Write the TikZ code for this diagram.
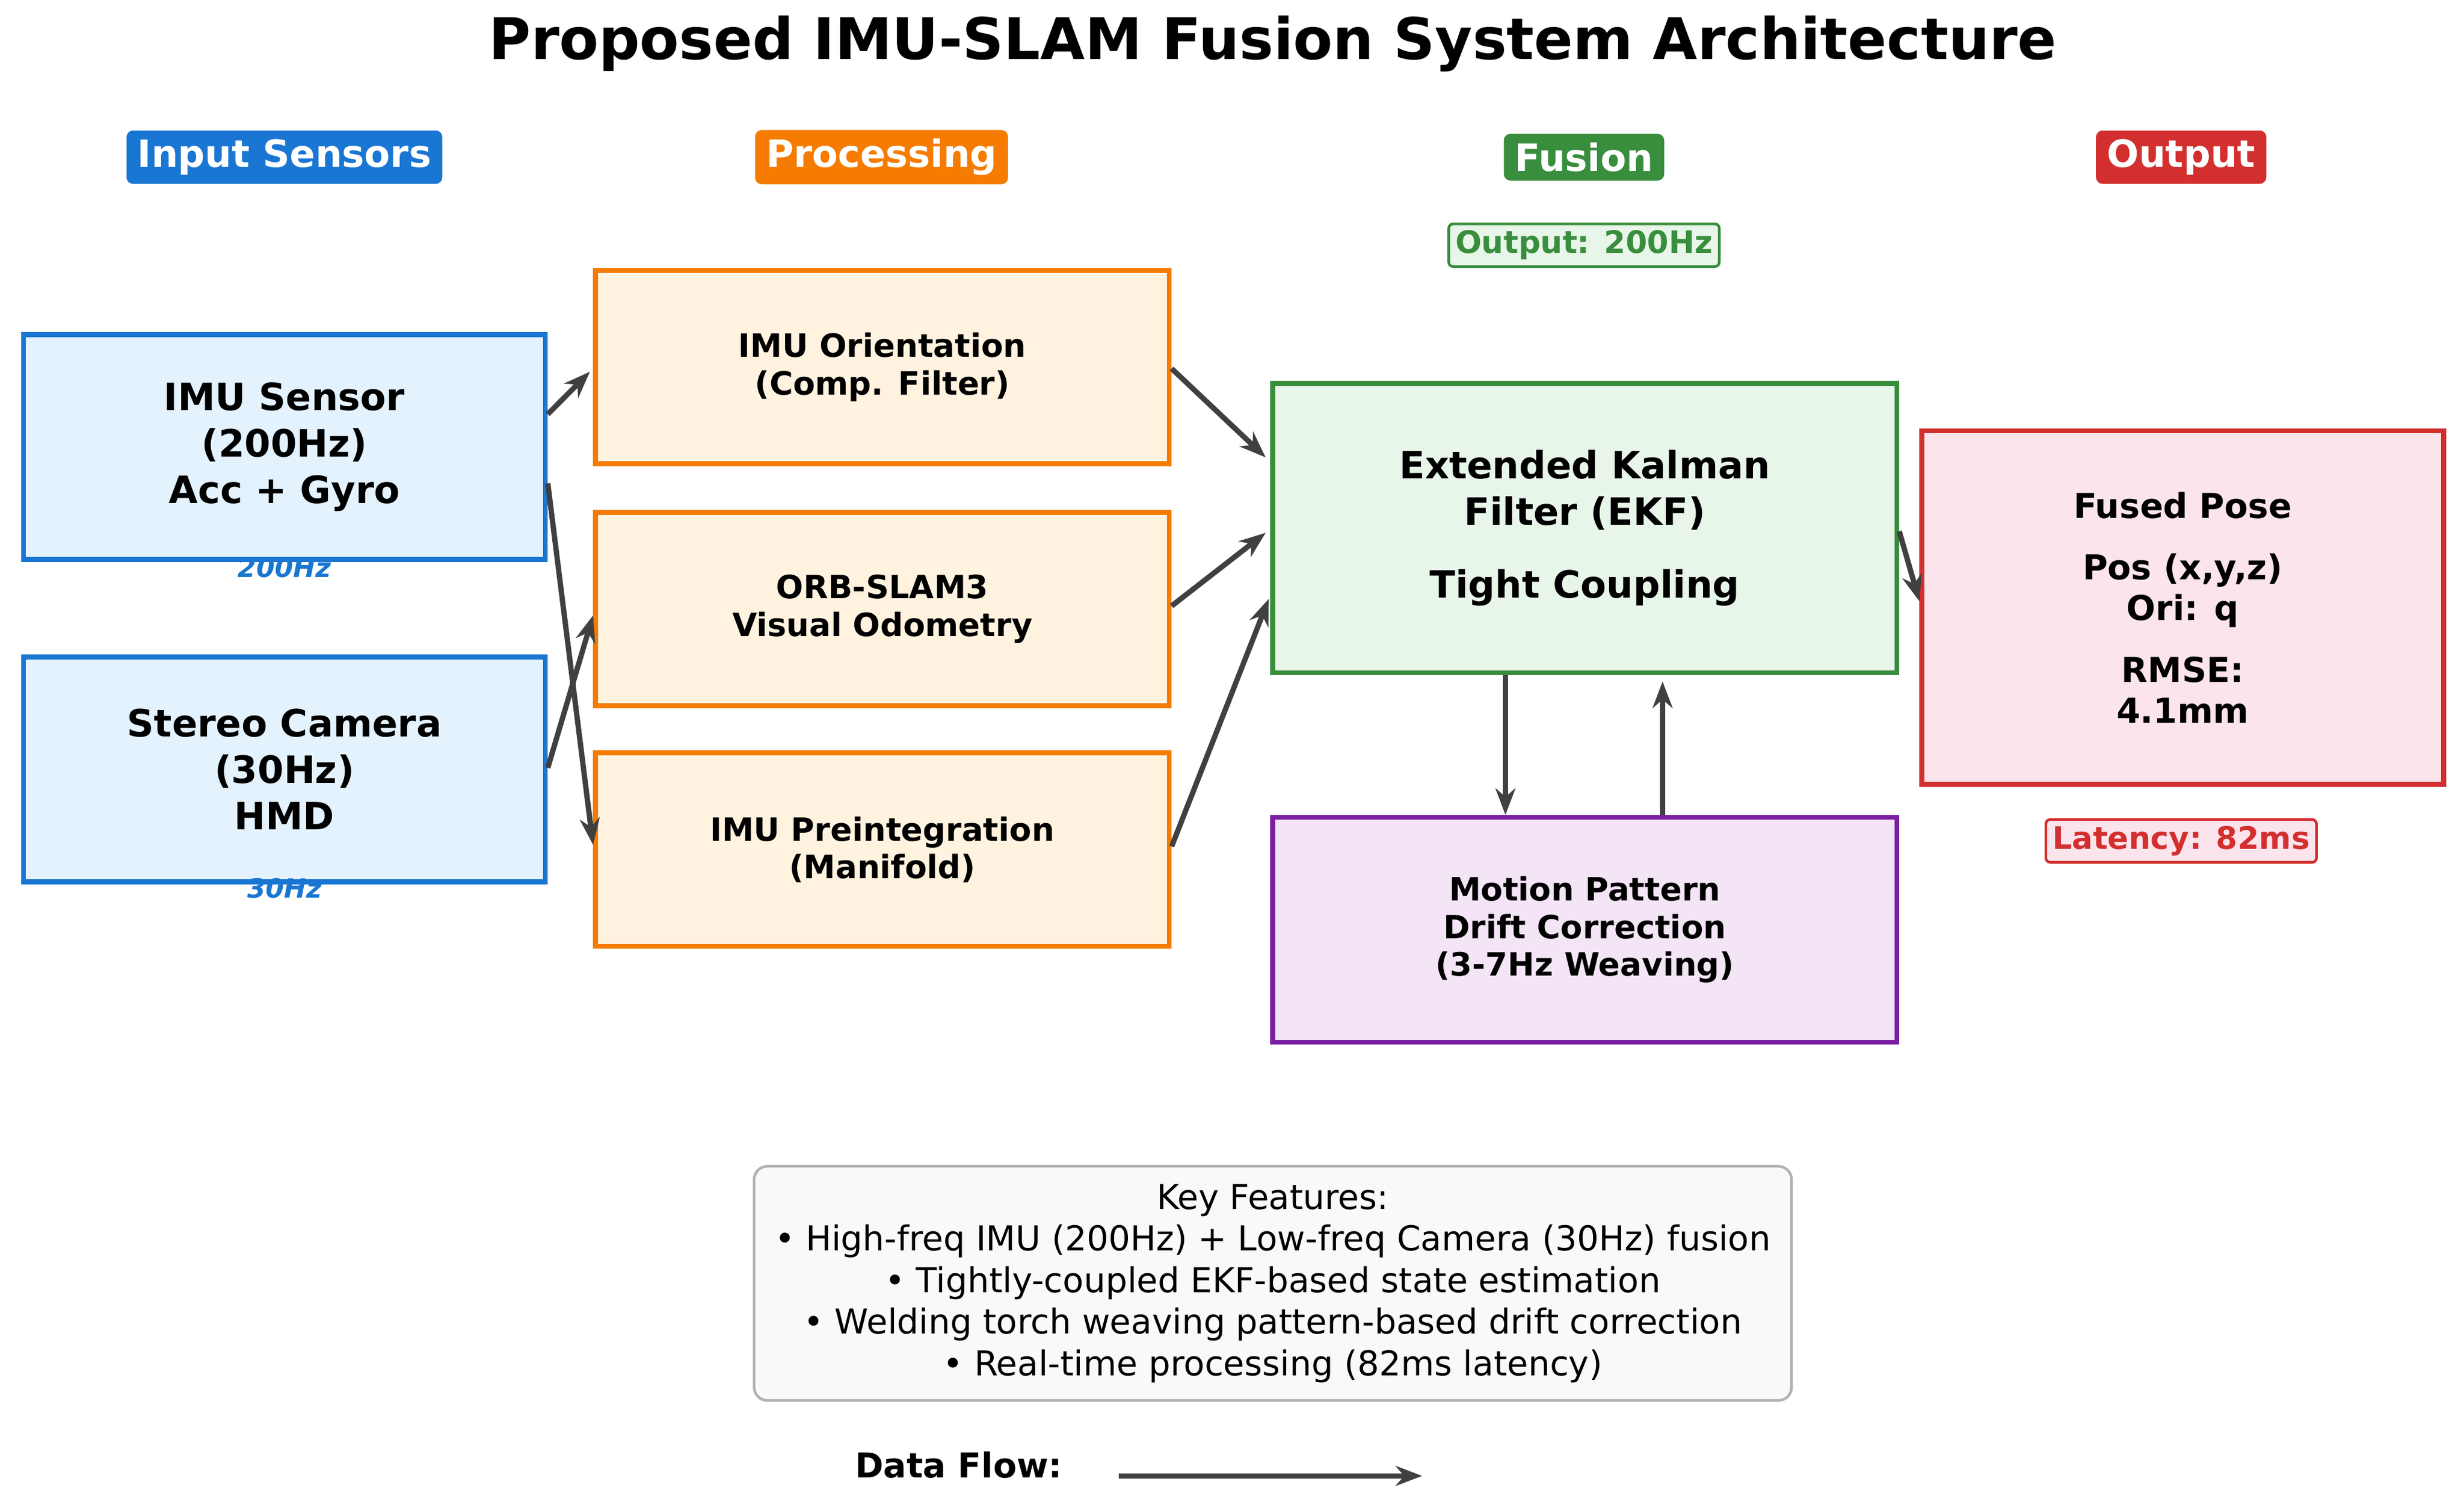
\documentclass[tikz,border=0pt]{standalone}
\usepackage{fontspec}
\setmainfont{DejaVu Sans}
\usetikzlibrary{calc,arrows.meta}
\definecolor{cb}{HTML}{1976D2}\definecolor{fb}{HTML}{E3F2FD}
\definecolor{co}{HTML}{F57C00}\definecolor{fo}{HTML}{FFF3E0}
\definecolor{cg}{HTML}{388E3C}\definecolor{fg}{HTML}{E8F5E9}
\definecolor{cp}{HTML}{7B1FA2}\definecolor{fp}{HTML}{F3E5F5}
\definecolor{cr}{HTML}{D32F2F}\definecolor{fr}{HTML}{FCE4EC}
\definecolor{ar}{HTML}{404040}
\begin{document}
\begin{tikzpicture}[x=0.025cm,y=-0.025cm,
 box/.style={draw,line width=2.2pt,align=center,font=\bfseries,inner sep=0pt},
 hdr/.style={rounded corners=3pt,text=white,font=\fontsize{17}{20}\selectfont\bfseries,inner xsep=5pt,inner ysep=4pt},
 tag/.style={draw,rounded corners=2pt,line width=1.2pt,font=\fontsize{14}{16}\selectfont\bfseries,inner sep=3pt},
 arr/.style={-{Stealth[length=12pt,width=9pt]},line width=2.4pt,draw=ar}]
\useasboundingbox (0,0) rectangle (1568,957.5);
\node[font=\fontsize{26}{30}\selectfont\bfseries] (title) at (810,28) {Proposed IMU-SLAM Fusion System Architecture};
\node[hdr,fill=cb] (h1) at (181,100) {Input Sensors};
\node[hdr,fill=co] (h2) at (561,100) {Processing};
\node[hdr,fill=cg] (h3) at (1008,100) {Fusion};
\node[hdr,fill=cr] (h4) at (1388,100) {Output};
\node[tag,draw=cg,fill=fg,text=cg] (o200) at (1008,156) {Output: 200Hz};
\node[box,draw=cb,fill=fb,minimum width=8.3cm,minimum height=3.575cm,font=\fontsize{17}{21}\selectfont\bfseries] (imu) at (181,284.5) {IMU Sensor\\(200Hz)\\Acc + Gyro};
\node[box,draw=cb,fill=fb,minimum width=8.3cm,minimum height=3.575cm,font=\fontsize{17}{21}\selectfont\bfseries] (cam) at (181,489.5) {Stereo Camera\\(30Hz)\\HMD};
\node[text=cb,font=\fontsize{12}{14}\selectfont\bfseries\itshape] (l1) at (181,361) {200Hz};
\node[text=cb,font=\fontsize{12}{14}\selectfont\bfseries\itshape] (l2) at (181,565) {30Hz};
\node[box,draw=co,fill=fo,minimum width=9.125cm,minimum height=3.075cm,font=\fontsize{14.5}{17}\selectfont\bfseries] (ori) at (561.5,233.5) {IMU Orientation\\(Comp. Filter)};
\node[box,draw=co,fill=fo,minimum width=9.125cm,minimum height=3.075cm,font=\fontsize{14.5}{17}\selectfont\bfseries] (orb) at (561.5,387.5) {ORB-SLAM3\\Visual Odometry};
\node[box,draw=co,fill=fo,minimum width=9.125cm,minimum height=3.075cm,font=\fontsize{14.5}{17}\selectfont\bfseries] (pre) at (561.5,540.5) {IMU Preintegration\\(Manifold)};
\node[box,draw=cg,fill=fg,minimum width=9.925cm,minimum height=4.6cm,font=\fontsize{17}{21}\selectfont\bfseries] (ekf) at (1008.5,336) {Extended Kalman\\Filter (EKF)\\[0.7em]Tight Coupling};
\node[box,draw=cp,fill=fp,minimum width=9.925cm,minimum height=3.575cm,font=\fontsize{14.5}{17}\selectfont\bfseries] (mot) at (1008.5,591.5) {Motion Pattern\\Drift Correction\\(3-7Hz Weaving)};
\node[box,draw=cr,fill=fr,minimum width=8.3cm,minimum height=5.625cm,font=\fontsize{15.5}{18.5}\selectfont\bfseries] (fus) at (1389,386.5) {Fused Pose\\[0.6em]Pos (x,y,z)\\Ori: q\\[0.6em]RMSE:\\4.1mm};
\node[tag,draw=cr,fill=fr,text=cr] (lat) at (1388,535) {Latency: 82ms};
\node[draw=black!30,fill=black!2.5,line width=1.2pt,rounded corners=6pt,minimum width=16.5cm,minimum height=3.725cm,align=center,font=\fontsize{15.5}{18.8}\selectfont] (key) at (810,816.5) {Key Features:\\• High-freq IMU (200Hz) + Low-freq Camera (30Hz) fusion\\• Tightly-coupled EKF-based state estimation\\• Welding torch weaving pattern-based drift correction\\• Real-time processing (82ms latency)};
\node[font=\fontsize{15.5}{18}\selectfont\bfseries] (df) at (610,932) {Data Flow:};
\coordinate (d1) at (712,939); \coordinate (d2) at (905,939);
\draw[arr] (d1) -- (d2);
\draw[arr] ($(imu.east)+(0,-21)$) -- ($(ori.west)+(-2,3)$);
\draw[arr] ($(imu.east)+(0,23)$) -- ($(pre.west)+(0,-3)$);
\draw[arr] ($(cam.east)+(0,-1)$) -- ($(orb.west)+(0,4)$);
\draw[arr] ($(ori.east)+(0,1)$) -- ($(ekf.west)+(-3,-45)$);
\draw[arr] ($(orb.east)+(0,-2)$) -- ($(ekf.west)+(-3,3)$);
\draw[arr] ($(pre.east)+(0,-2)$) -- ($(ekf.west)+(-1,45)$);
\draw[arr] ($(ekf.east)+(0,2)$) -- ($(fus.west)+(0,-4)$);
\draw[arr] (ekf.south -| 958,0) -- (mot.north -| 958,0);
\draw[arr] (mot.north -| 1058,0) -- ($(ekf.south -| 1058,0)+(0,4)$);
\end{tikzpicture}
\end{document}
